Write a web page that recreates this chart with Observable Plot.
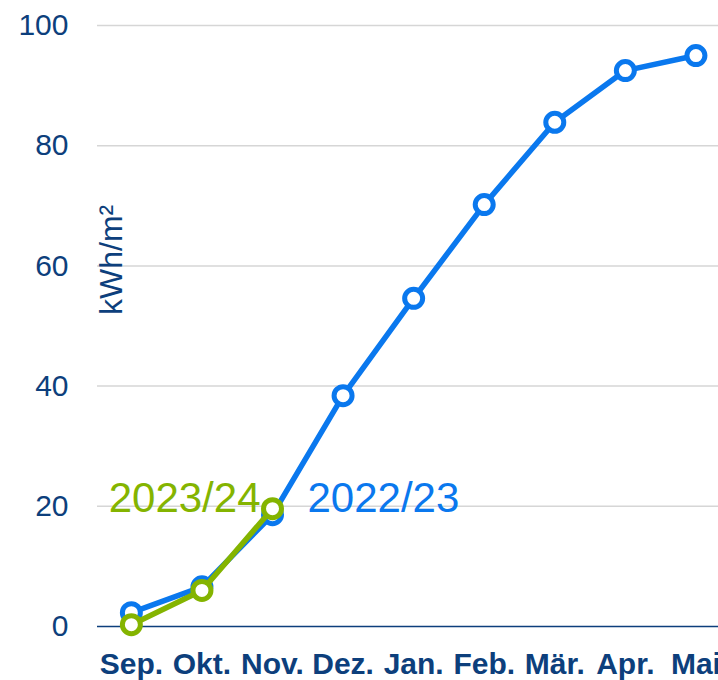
<!DOCTYPE html>
<html>
<head>
<meta charset="utf-8">
<script src="https://cdn.jsdelivr.net/npm/d3@7"></script>
<script src="https://cdn.jsdelivr.net/npm/@observablehq/plot@0.6"></script>
<style>
  html, body { margin: 0; padding: 0; background: #fff; overflow: hidden; }
  #chart svg { display: block; overflow: visible; }
</style>
</head>
<body>
<div id="chart"></div>
<script>
const months = ["Sep.", "Okt.", "Nov.", "Dez.", "Jan.", "Feb.", "Mär.", "Apr.", "Mai"];
const values2223 = [2.3, 6.6, 18.6, 38.4, 54.6, 70.2, 83.9, 92.5, 95.0];
const values2324 = [0.3, 6.0, 19.6];
const yTicks = [0, 20, 40, 60, 80, 100];
const gridTicks = [20, 40, 60, 80, 100];
const seriesNames = ["2022/23", "2023/24"];
const unitLabel = "kWh/m²";

const blue = "#0a78ee";
const green = "#84b400";
const navy = "#0d3f7c";

const d2223 = months.map((m, i) => ({month: m, value: values2223[i]}));
const d2324 = values2324.map((v, i) => ({month: months[i], value: v}));

const chart = Plot.plot({
  width: 718,
  height: 680,
  marginTop: 25,
  marginBottom: 54,
  marginLeft: 97,
  marginRight: 0,
  style: {fontFamily: "'Liberation Sans', Arial, sans-serif", color: navy, background: "#fff"},
  x: {type: "point", domain: months, padding: 0.4, align: 0.6, round: false},
  y: {domain: [0, 100]},
  marks: [
    Plot.gridY(gridTicks, {stroke: "#d6d6d6", strokeOpacity: 1, strokeWidth: 1.5}),
    Plot.axisY(yTicks, {tickSize: 0, tickPadding: 29, fontSize: 30, label: null}),
    Plot.axisX({tickSize: 0, tickPadding: 26, fontSize: 30, fontWeight: "bold", label: null}),
    Plot.ruleY([0], {stroke: navy, strokeWidth: 1.5}),
    Plot.text([unitLabel], {frameAnchor: "left", y: 61, dx: 14, rotate: -90, textAnchor: "middle", fontSize: 32, fill: navy}),
    Plot.line(d2223, {x: "month", y: "value", stroke: blue, strokeWidth: 5.5}),
    Plot.dot(d2223, {x: "month", y: "value", r: 9, stroke: blue, strokeWidth: 5, fill: "#fff"}),
    Plot.line(d2324, {x: "month", y: "value", stroke: green, strokeWidth: 5.5}),
    Plot.dot(d2324, {x: "month", y: "value", r: 9, stroke: green, strokeWidth: 5, fill: "#fff"}),
    Plot.text([d2324[2]], {x: "month", y: "value", text: () => seriesNames[1], textAnchor: "end", dx: -12, dy: -10, fontSize: 42, fill: green}),
    Plot.text([d2223[2]], {x: "month", y: "value", text: () => seriesNames[0], textAnchor: "start", dx: 35, dy: -16, fontSize: 42, fill: blue})
  ]
});
document.getElementById("chart").appendChild(chart);
</script>
</body>
</html>
